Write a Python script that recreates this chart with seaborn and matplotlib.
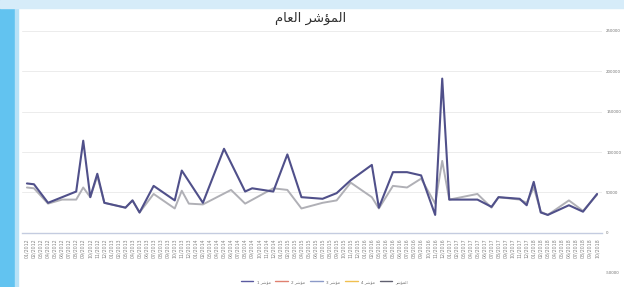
import numpy as np
import pandas as pd
import matplotlib
matplotlib.use("Agg")
import matplotlib.pyplot as plt
from matplotlib.lines import Line2D
from matplotlib.patches import Rectangle
import seaborn as sns

# category labels (months)
months = ["%02d/%d" % (m, y) for y in range(2012, 2019) for m in range(1, 13)][:82]

# points of each series (category index -> value); gaps are joined by straight lines
main_idx = [0, 1, 3, 5, 7, 8, 9, 10, 11, 14, 15, 16, 18, 21, 22, 25, 28, 31, 32, 35, 37, 39,
            42, 44, 46, 49, 50, 52, 54, 56, 58, 59, 60, 64, 66, 67, 70, 71, 72, 73, 74, 77, 79, 81]
main_vals = [61000, 60000, 37000, 44000, 51000, 114000, 44000, 73000, 37000, 31000, 40000,
             25000, 58000, 40000, 77000, 37000, 104000, 51000, 55000, 51000, 97000, 44000,
             42000, 49000, 65000, 84000, 31000, 75000, 75000, 71000, 22000, 191000, 41000,
             41000, 32000, 44000, 42000, 34000, 63000, 25000, 22000, 34000, 26000, 48000]

gray_idx = [0, 1, 3, 5, 7, 8, 9, 10, 11, 14, 15, 16, 18, 21, 22, 23, 25, 29, 31, 35, 37, 39,
            42, 44, 46, 49, 50, 52, 54, 56, 58, 59, 60, 64, 66, 67, 70, 71, 72, 73, 74, 77, 79, 81]
gray_vals = [56000, 55000, 36000, 41000, 41000, 56000, 44000, 70000, 37000, 31000, 40000,
             25000, 48000, 30000, 52000, 36000, 35000, 53000, 36000, 55000, 53000, 30000,
             37000, 40000, 62000, 44000, 30000, 58000, 56000, 67000, 36000, 89000, 41000,
             48000, 31000, 44000, 41000, 37000, 56000, 26000, 22000, 40000, 27000, 47000]

y_ticks = [-50000, 0, 50000, 100000, 150000, 200000, 250000]

legend_labels = ["1 \uFEAE\uFEB7\uFE86\uFEE3", "2 \uFEAE\uFEB7\uFE86\uFEE3", "3 \uFEAE\uFEB7\uFE86\uFEE3",
                 "4 \uFEAE\uFEB7\uFE86\uFEE3", "\uFEAE\uFEB7\uFE86\uFEE4\uFEDF\uFE8D"]
legend_colors = ["#5a5aa0", "#e08070", "#8c9ac8", "#f0c050", "#606070"]

# "المؤشر العام" in presentation forms, visual order
title = "\uFEE1\uFE8E\uFECC\uFEDF\uFE8D \uFEAE\uFEB7\uFE86\uFEE4\uFEDF\uFE8D"

main_df = pd.DataFrame({"idx": main_idx, "value": main_vals})
gray_df = pd.DataFrame({"idx": gray_idx, "value": gray_vals})

sns.set_style("white")
plt.rcParams["font.family"] = ["DejaVu Sans"]

fig = plt.figure(figsize=(6.24, 2.87), dpi=100)
fig.patch.set_facecolor("white")

# slide background: blue strip on the left, pale band on top
fig.patches.append(Rectangle((0, 0), 15 / 624, 1, transform=fig.transFigure, color="#62c3f0", zorder=0))
fig.patches.append(Rectangle((15 / 624, 0), 3 / 624, 1, transform=fig.transFigure, color="#b8e2f7", zorder=0))
fig.patches.append(Rectangle((0, 1 - 8 / 287), 1, 8 / 287, transform=fig.transFigure, color="#d6ecf9", zorder=0))

ax = fig.add_axes([22 / 624, 14 / 287, 580 / 624, 242 / 287])
ax.set_facecolor("none")

sns.lineplot(data=gray_df, x="idx", y="value", ax=ax, color="#b0b0b6", linewidth=1.4, zorder=2)
sns.lineplot(data=main_df, x="idx", y="value", ax=ax, color="#50508a", linewidth=1.5, zorder=3)

# category axis crosses at zero (set before tick styling, it resets ticks)
ax.spines["bottom"].set_position(("data", 0))
ax.spines["bottom"].set_color("#c4cce0")
ax.spines["bottom"].set_linewidth(1.0)
for s in ["top", "left", "right"]:
    ax.spines[s].set_visible(False)

ax.set_xlim(-0.7, len(months) - 0.3)
ax.set_ylim(-50000, 250000)
ax.set_yticks(y_ticks)
ax.set_yticklabels([str(v) for v in y_ticks], fontsize=2.8, color="#707070")
ax.yaxis.tick_right()
ax.tick_params(axis="y", length=0, pad=3)
ax.grid(axis="y", color="#ececec", linewidth=0.7)

ax.set_xticks(range(len(months)))
ax.set_xticklabels(months, rotation=90, fontsize=3.4, color="#858585")
ax.tick_params(axis="x", length=3, width=0.4, color="#c4cce0", pad=1)
ax.set_xlabel("")
ax.set_ylabel("")

fig.text(0.497, 0.935, title, fontsize=9.5, color="#303030", ha="center", va="center")

handles = [Line2D([], [], color=c, linewidth=1) for c in legend_colors]
fig.legend(handles, legend_labels, loc="center", bbox_to_anchor=(0.52, 0.018), ncol=5,
           fontsize=3, frameon=False, handlelength=3, columnspacing=1.2, labelcolor="#707070")

plt.savefig("out.png", dpi=100)
